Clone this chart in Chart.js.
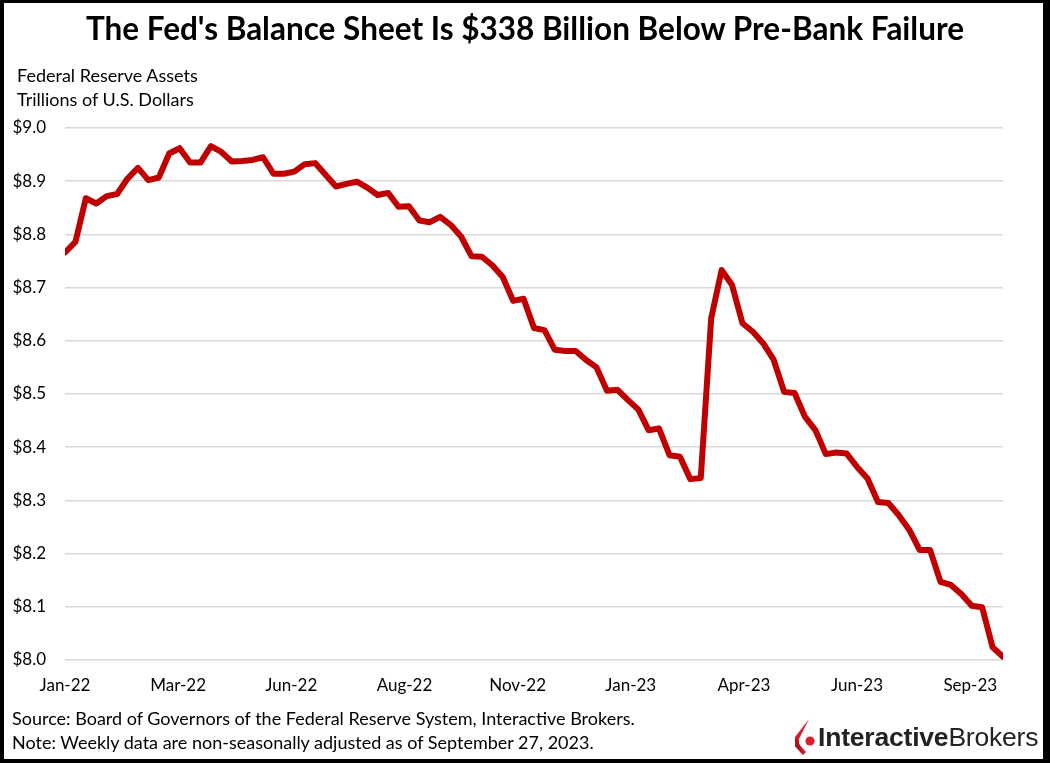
<!DOCTYPE html>
<html>
<head>
<meta charset="utf-8">
<script src="https://cdn.jsdelivr.net/npm/chart.js@4.4.1/dist/chart.umd.min.js"></script>
<style>
  html, body { margin: 0; padding: 0; background: #fff; }
  body { width: 1050px; height: 763px; position: relative; overflow: hidden; font-family: Lato, "Open Sans", sans-serif; color: #000; }
  #frame { position: absolute; left: 0; top: 0; width: 1050px; height: 763px; box-sizing: border-box;
           border-style: solid; border-color: #000; border-width: 3px 7px 4px 4px; pointer-events: none; z-index: 5; }
  #chartBox { position: absolute; left: 0; top: 0; width: 1050px; height: 763px; }
  .txt { position: absolute; white-space: nowrap; font-size: 18px; line-height: 20px; }
  #title { left: 0; width: 1050px; text-align: center; top: 10px; font-size: 31.5px; line-height: 36px; font-weight: 700; }
  #logo { position: absolute; left: 790px; top: 716px; width: 258px; height: 42px; }
  #logoText { position: absolute; left: 28px; top: 5px; font-family: "Liberation Sans", Arial, sans-serif; font-size: 26.5px; line-height: 32px; color: #222; letter-spacing: -0.2px; }
</style>
</head>
<body>
<div id="chartBox"><canvas id="fedChart" width="1050" height="763"></canvas></div>
<div id="title" class="txt">The Fed's Balance Sheet Is $338 Billion Below Pre-Bank Failure</div>
<div class="txt" style="left:17px; top:65px;">Federal Reserve Assets</div>
<div class="txt" style="left:17px; top:89px;">Trillions of U.S. Dollars</div>
<div class="txt" style="left:12px; top:708px;">Source: Board of Governors of the Federal Reserve System, Interactive Brokers.</div>
<div class="txt" style="left:12px; top:732px;">Note: Weekly data are non-seasonally adjusted as of September 27, 2023.</div>
<div id="logo">
  <svg width="28" height="42" style="position:absolute;left:0;top:0">
    <polygon points="19,3 5,21 5,30 13,39 16,36 9,28 9,23" fill="#d81e2c"/>
    <polygon points="5,21 5,30 13,39 9,27" fill="#a8141f"/>
    <circle cx="20" cy="25" r="4.6" fill="#d81e2c"/>
  </svg>
  <div id="logoText"><b>Interactive</b>Brokers</div>
</div>
<div id="frame"></div>

<script>
// weekly H.4.1 total assets, trillions USD, Jan 5 2022 .. Sep 27 2023
const assets = [
  8.766, 8.786, 8.868, 8.858, 8.872, 8.876, 8.905, 8.925, 8.902, 8.907,
  8.952, 8.962, 8.935, 8.935, 8.966, 8.955, 8.937, 8.938, 8.940, 8.945,
  8.914, 8.914, 8.918, 8.932, 8.934, 8.912, 8.890, 8.895, 8.899, 8.888,
  8.874, 8.878, 8.852, 8.853, 8.826, 8.823, 8.833, 8.818, 8.796, 8.759,
  8.758, 8.742, 8.720, 8.675, 8.679, 8.624, 8.620, 8.583, 8.581, 8.581,
  8.564, 8.550, 8.506, 8.508, 8.489, 8.471, 8.432, 8.435, 8.385, 8.382,
  8.340, 8.342, 8.642, 8.733, 8.705, 8.633, 8.617, 8.595, 8.564, 8.504,
  8.502, 8.457, 8.432, 8.387, 8.390, 8.388, 8.363, 8.341, 8.297, 8.295,
  8.272, 8.245, 8.207, 8.207, 8.147, 8.141, 8.124, 8.102, 8.099, 8.024,
  8.006
];
// days since Jan 5, 2022 for each weekly observation
const weekDays = assets.map((_, i) => i * 7);
const tickLabels = ['Jan-22', 'Mar-22', 'Jun-22', 'Aug-22', 'Nov-22', 'Jan-23', 'Apr-23', 'Jun-23', 'Sep-23'];
const tickStepDays = 76;

const points = assets.map((v, i) => ({ x: weekDays[i], y: v }));

Chart.defaults.font.family = 'Lato, "Open Sans", sans-serif';
Chart.defaults.font.size = 17;
Chart.defaults.color = '#000';

new Chart(document.getElementById('fedChart').getContext('2d'), {
    type: 'line',
    data: {
        datasets: [{
            label: 'Federal Reserve Assets',
            data: points,
            borderColor: '#c00000',
            borderWidth: 6,
            borderJoinStyle: 'round',
            borderCapStyle: 'round',
            pointRadius: 0,
            tension: 0,
            fill: false
        }]
    },
    options: {
        responsive: false,
        animation: false,
        events: [],
        layout: { padding: { left: 12, top: 128, right: 47, bottom: 63 } },
        plugins: { legend: { display: false }, tooltip: { enabled: false } },
        scales: {
            x: {
                type: 'linear',
                min: 0,
                max: weekDays[weekDays.length - 1],
                grid: { display: false, drawTicks: false },
                border: { display: false },
                afterFit: function(scale) { scale.height = 40; },
                ticks: {
                    stepSize: tickStepDays,
                    includeBounds: false,
                    autoSkip: false,
                    maxRotation: 0,
                    padding: 15,
                    callback: function(value) {
                        return tickLabels[Math.round(value / tickStepDays)] || '';
                    }
                }
            },
            y: {
                min: 8.0,
                max: 9.0,
                grid: { color: '#d9d9d9', lineWidth: 1.5, drawTicks: false },
                border: { display: false },
                afterFit: function(scale) { scale.width = 53; },
                ticks: {
                    stepSize: 0.1,
                    padding: 19,
                    callback: function(value) { return '$' + value.toFixed(1); }
                }
            }
        }
    }
});
</script>
</body>
</html>
